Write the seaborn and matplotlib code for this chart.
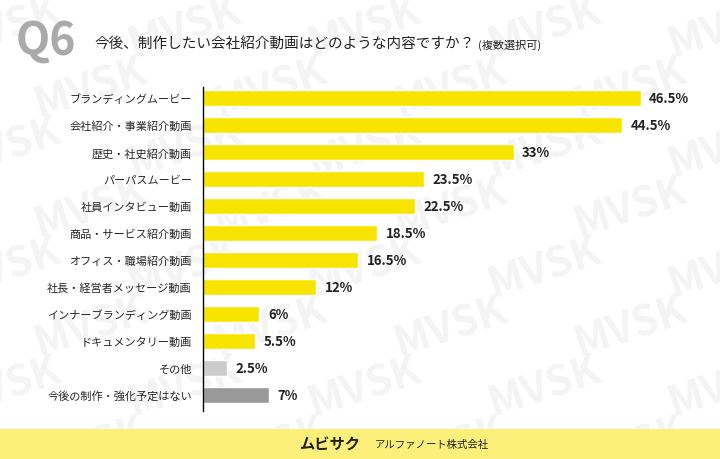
import matplotlib.pyplot as plt
import seaborn as sns
import pandas as pd

categories = ['ブランディングムービー', '会社紹介・事業紹介動画', '歴史・社史紹介動画', 'パーパスムービー',
              '社員インタビュー動画', '商品・サービス紹介動画', 'オフィス・職場紹介動画', '社長・経営者メッセージ動画',
              'インナーブランディング動画', 'ドキュメンタリー動画', 'その他', '今後の制作・強化予定はない']
values = [46.5, 44.5, 33, 23.5, 22.5, 18.5, 16.5, 12, 6, 5.5, 2.5, 7]
labels = ['46.5%', '44.5%', '33%', '23.5%', '22.5%', '18.5%', '16.5%', '12%', '6%', '5.5%', '2.5%', '7%']
colors = ['#f7e400'] * 10 + ['#cccccc', '#999999']

sns.set_theme(style='white')
plt.rcParams['font.family'] = ['Noto Sans CJK JP', 'DejaVu Sans']

fig = plt.figure(figsize=(7.2, 4.6), dpi=100)
fig.patch.set_facecolor('white')

# watermark in a background axes
bg = fig.add_axes([0, 0, 1, 1], zorder=0)
bg.set_axis_off()
bg.set_xlim(0, 1)
bg.set_ylim(0, 1)
for row in range(8):
    for col in range(5):
        bg.text(-0.08 + col * 0.25 + (row % 2) * 0.12, 1.02 - row * 0.13, 'MVSK', fontsize=30,
                fontweight='bold', color='#f4f4f4', rotation=18, ha='left', va='top', clip_on=True)
bg.add_patch(plt.Rectangle((0, 0), 1, 30 / 460, facecolor='#fdf07a', edgecolor='none', zorder=3))

ax = fig.add_axes([203 / 720, 1 - 412 / 460, 497 / 720, 324 / 460], zorder=2)
ax.set_facecolor('none')
df = pd.DataFrame({'cat': categories, 'val': values})
sns.barplot(data=df, x='val', y='cat', hue='cat', palette=colors, legend=False, width=0.6,
            saturation=1, ax=ax)
ax.set_xlim(0, 52.8)
ax.set_ylim(11.6, -0.41)
ax.set_xlabel('')
ax.set_ylabel('')
ax.set_xticks([])
for s in ['top', 'right', 'bottom']:
    ax.spines[s].set_visible(False)
ax.spines['left'].set_color('black')
ax.spines['left'].set_linewidth(1)
ax.tick_params(axis='y', length=0, pad=8, labelsize=8)
for i, (v, l) in enumerate(zip(values, labels)):
    ax.text(v + 0.9, i, l, va='center', ha='left', fontsize=9.5, fontweight='bold', color='#222222')

fig.text(16 / 720, 1 - 42 / 460, 'Q6', fontsize=32, fontweight='bold', color='#aaaaaa', va='center')
fig.text(94 / 720, 1 - 44 / 460, '今後、制作したい会社紹介動画はどのような内容ですか？', fontsize=10.5,
         color='#222222', va='center')
fig.text(478 / 720, 1 - 45 / 460, '(複数選択可)', fontsize=8, color='#222222', va='center')

fig.text(0.5, 15 / 460, 'ムビサク', fontsize=11, fontweight='bold', color='#222222',
         ha='right', va='center', zorder=5)
fig.text(0.52, 15 / 460, 'アルファノート株式会社', fontsize=7.5, color='#222222', ha='left',
         va='center', zorder=5)

fig.savefig('out.png', dpi=100)
